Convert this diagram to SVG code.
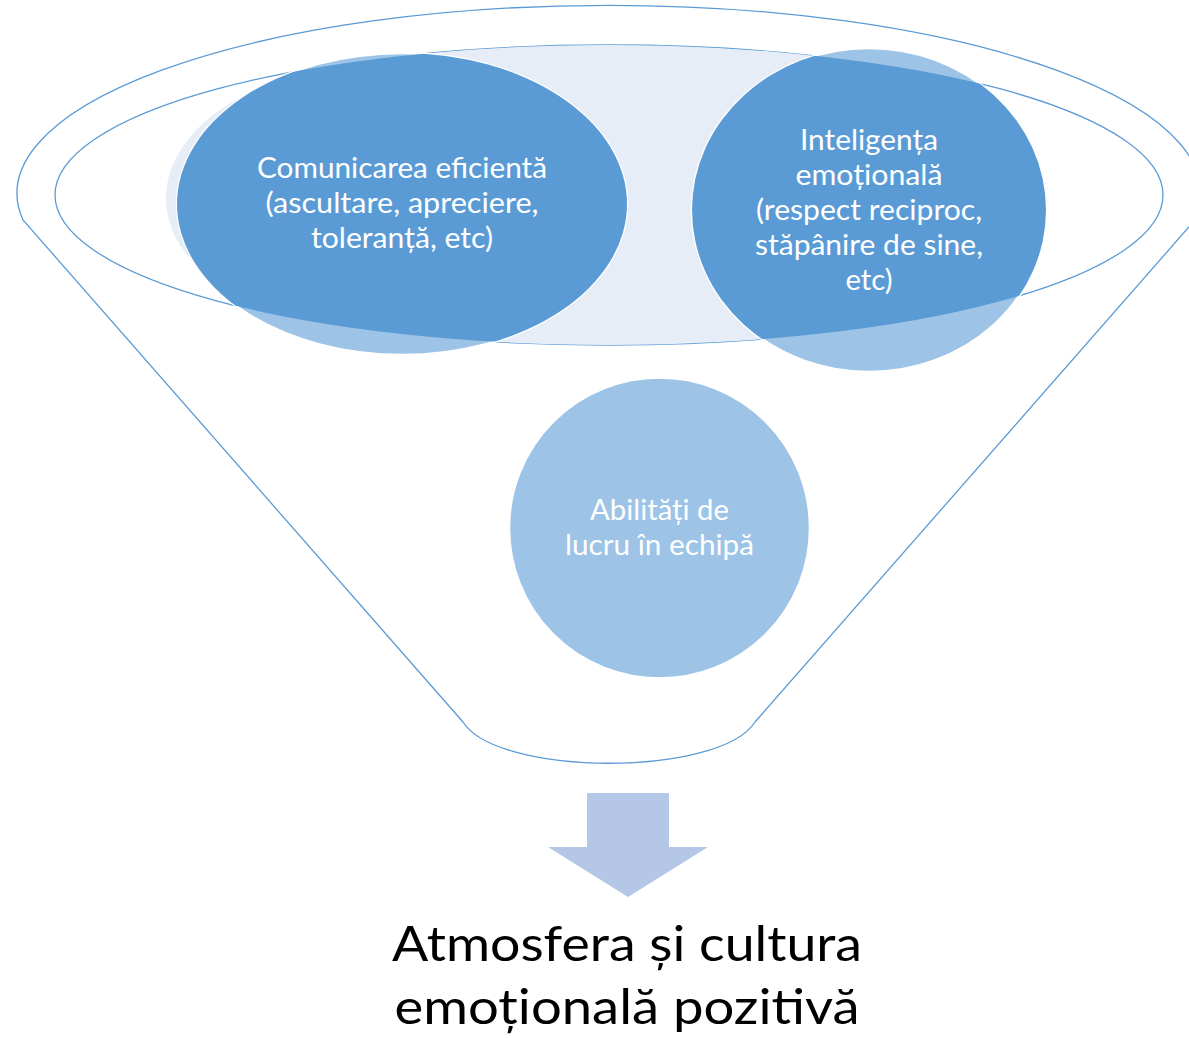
<svg xmlns="http://www.w3.org/2000/svg" width="1189" height="1038" viewBox="0 0 1189 1038">
<style>
.outline{fill:none;stroke:#5b9bd5;stroke-width:1.3}
.light{fill:#9dc3e6;stroke:#ffffff;stroke-width:2.5}
.dark{fill:#5b9bd5}
.t{font-family:Lato,"Open Sans","Noto Sans",sans-serif;fill:#ffffff;font-size:28px;text-anchor:middle}
.big{font-family:Lato,"Open Sans","Noto Sans",sans-serif;fill:#000000;font-size:48px;text-anchor:middle}
</style>
<defs>
<clipPath id="rim"><ellipse cx="609" cy="195" rx="554" ry="150"/></clipPath>
</defs>
<rect width="1189" height="1038" fill="#ffffff"/>
<g id="funnel">
<path class="outline" d="M 23 220 A 592 188 0 1 1 1195 220 L 755 722 C 720 777 498 777 463 722 Z"/>
<ellipse class="outline" cx="609" cy="195" rx="554" ry="150"/>
<g clip-path="url(#rim)" fill="#e6edf7">
<ellipse cx="400" cy="198" rx="234" ry="138"/>
<rect x="400" y="40" width="470" height="320"/>
</g>
</g>
<g id="node-comunicarea">
<ellipse class="light" cx="402" cy="204" rx="225" ry="151"/>
<ellipse class="dark" cx="402" cy="204" rx="225" ry="151" clip-path="url(#rim)"/>
<text class="t" x="402" y="178" textLength="290" lengthAdjust="spacingAndGlyphs">Comunicarea eficientă</text>
<text class="t" x="402" y="213" textLength="273" lengthAdjust="spacingAndGlyphs">(ascultare, apreciere,</text>
<text class="t" x="402" y="248" textLength="182" lengthAdjust="spacingAndGlyphs">toleranță, etc)</text>
</g>
<g id="node-inteligenta">
<ellipse class="light" cx="869" cy="210" rx="177" ry="162"/>
<ellipse class="dark" cx="869" cy="210" rx="177" ry="162" clip-path="url(#rim)"/>
<text class="t" x="869" y="150" textLength="138" lengthAdjust="spacingAndGlyphs">Inteligența</text>
<text class="t" x="869" y="185" textLength="147" lengthAdjust="spacingAndGlyphs">emoțională</text>
<text class="t" x="869" y="220" textLength="226" lengthAdjust="spacingAndGlyphs">(respect reciproc,</text>
<text class="t" x="869" y="255" textLength="228" lengthAdjust="spacingAndGlyphs">stăpânire de sine,</text>
<text class="t" x="869" y="290" textLength="47" lengthAdjust="spacingAndGlyphs">etc)</text>
</g>
<g id="node-abilitati">
<circle class="light" cx="659.5" cy="528" r="150.5"/>
<text class="t" x="659.5" y="520" textLength="139" lengthAdjust="spacingAndGlyphs">Abilități de</text>
<text class="t" x="659.5" y="555" textLength="189" lengthAdjust="spacingAndGlyphs">lucru în echipă</text>
</g>
<g id="connectors">
<polygon points="587,793 669,793 669,847 708,847 628,897 548,847 587,847" fill="#b4c7e7"/>
</g>
<g id="node-rezultat">
<text class="big" x="627" y="961" textLength="470" lengthAdjust="spacingAndGlyphs">Atmosfera și cultura</text>
<text class="big" x="627" y="1024" textLength="465" lengthAdjust="spacingAndGlyphs">emoțională pozitivă</text>
</g>
</svg>
